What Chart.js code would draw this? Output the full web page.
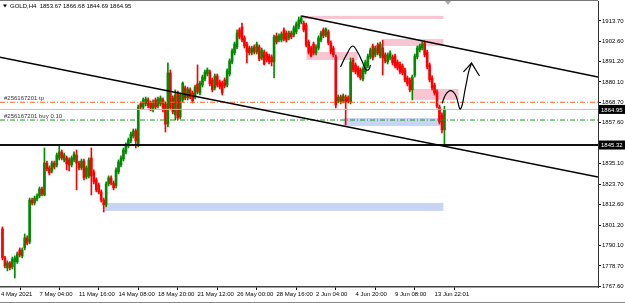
<!DOCTYPE html>
<html>
<head>
<meta charset="utf-8">
<script src="https://cdn.jsdelivr.net/npm/chart.js@4.4.0/dist/chart.umd.min.js"></script>
<style>
  html, body { margin: 0; padding: 0; background: #fff; }
  #chart { display: block; }
</style>
</head>
<body>
<canvas id="chart" width="625" height="303"></canvas>
<script>
// GOLD H4 candles (one entry per bar)
const opens = [
  1799.1, 1783.1, 1777.6, 1780.3, 1778.1, 1780.9, 1780.9, 1787.5, 1784.2, 1788.6,
  1794.1, 1791.9, 1815.0, 1813.4, 1815.6, 1817.3, 1821.1, 1817.8, 1835.4, 1832.7,
  1831.0, 1835.4, 1834.3, 1838.2, 1841.5, 1837.1, 1838.2, 1837.1, 1834.3, 1837.1,
  1839.8, 1835.4, 1832.7, 1836.5, 1827.7, 1828.3, 1838.2, 1830.5, 1826.1, 1823.3,
  1819.5, 1815.0, 1812.3, 1823.9, 1827.2, 1824.4, 1822.8, 1830.5, 1834.3, 1837.6,
  1841.5, 1844.8, 1847.6, 1850.3, 1853.1, 1845.4, 1868.0, 1866.3, 1868.0, 1870.2,
  1868.5, 1864.7, 1870.2, 1866.9, 1868.0, 1870.2, 1868.0, 1856.9, 1885.1, 1871.3,
  1861.9, 1874.0, 1860.8, 1870.2, 1876.8, 1871.3, 1875.7, 1874.0, 1871.8, 1879.0,
  1874.0, 1878.4, 1881.7, 1884.5, 1885.6, 1881.2, 1876.8, 1883.4, 1880.1, 1879.5,
  1881.2, 1878.4, 1884.5, 1891.1, 1896.1, 1899.4, 1908.8, 1910.4, 1904.4, 1901.0,
  1898.8, 1896.1, 1899.4, 1896.6, 1899.4, 1893.3, 1896.6, 1895.5, 1894.4, 1893.9,
  1891.1, 1905.5, 1903.2, 1903.2, 1908.8, 1907.1, 1904.4, 1907.1, 1906.0, 1907.7,
  1910.4, 1913.2, 1912.6, 1911.5, 1902.1, 1898.8, 1901.0, 1896.1, 1898.8, 1903.2,
  1908.8, 1906.0, 1907.7, 1901.6, 1898.8, 1893.9, 1869.6, 1871.8, 1869.6, 1871.8,
  1871.3, 1869.1, 1892.2, 1889.5, 1887.8, 1886.7, 1881.7, 1885.6, 1888.9, 1893.9,
  1899.9, 1895.0, 1900.5, 1894.4, 1898.8, 1895.0, 1891.1, 1893.3, 1893.9, 1894.4,
  1891.1, 1890.0, 1888.9, 1886.7, 1882.3, 1881.2, 1875.7, 1883.9, 1893.9, 1897.7,
  1898.8, 1901.6, 1896.6, 1889.5, 1882.3, 1878.4, 1874.6, 1866.3, 1861.9, 1853.67
];
const highs = [
  1800.2, 1784.0, 1781.5, 1781.0, 1783.6, 1784.2, 1786.4, 1788.6, 1788.6, 1796.3,
  1795.2, 1816.1, 1816.1, 1817.2, 1818.4, 1822.2, 1822.2, 1843.7, 1836.5, 1833.8,
  1836.5, 1836.5, 1840.9, 1845.4, 1842.6, 1840.9, 1839.3, 1838.2, 1839.3, 1841.5,
  1842.6, 1836.5, 1837.6, 1837.6, 1833.8, 1838.2, 1843.7, 1831.6, 1827.2, 1824.4,
  1820.6, 1816.1, 1825.0, 1828.3, 1828.3, 1825.5, 1832.7, 1837.1, 1839.3, 1843.7,
  1846.5, 1849.2, 1852.5, 1854.2, 1854.2, 1867.4, 1869.1, 1871.3, 1871.8, 1871.3,
  1869.6, 1870.2, 1871.3, 1871.8, 1872.4, 1871.3, 1869.1, 1890.6, 1886.7, 1872.4,
  1875.7, 1875.1, 1874.0, 1880.1, 1877.9, 1877.3, 1876.8, 1875.1, 1878.4, 1889.5,
  1880.6, 1883.9, 1886.7, 1887.8, 1886.7, 1882.3, 1884.5, 1884.5, 1881.2, 1880.6,
  1882.3, 1887.3, 1892.8, 1898.3, 1902.1, 1908.8, 1909.9, 1912.6, 1905.5, 1902.1,
  1899.9, 1899.9, 1900.5, 1902.1, 1900.5, 1898.8, 1897.7, 1896.6, 1895.5, 1895.0,
  1906.0, 1907.1, 1906.6, 1907.7, 1909.9, 1908.2, 1908.2, 1908.2, 1911.0, 1913.2,
  1915.9, 1916.5, 1913.7, 1912.6, 1903.2, 1899.9, 1902.1, 1900.5, 1905.5, 1908.2,
  1909.9, 1909.9, 1908.8, 1902.7, 1899.9, 1895.0, 1872.9, 1872.9, 1873.5, 1872.9,
  1872.4, 1893.3, 1893.3, 1890.6, 1888.9, 1887.8, 1888.4, 1892.2, 1895.5, 1898.8,
  1901.0, 1899.9, 1901.6, 1902.1, 1903.2, 1896.1, 1896.1, 1897.2, 1895.0, 1895.5,
  1892.2, 1891.1, 1890.0, 1887.8, 1883.4, 1882.3, 1883.9, 1895.5, 1899.9, 1901.0,
  1902.1, 1902.7, 1897.7, 1890.6, 1883.4, 1879.5, 1875.7, 1867.4, 1863.0, 1866.68
];
const lows = [
  1782.0, 1777.6, 1775.9, 1776.5, 1777.0, 1772.0, 1780.0, 1783.6, 1783.1, 1787.5,
  1790.2, 1790.8, 1812.3, 1812.3, 1814.5, 1816.2, 1817.2, 1817.3, 1831.0, 1828.8,
  1830.0, 1832.1, 1833.2, 1837.1, 1837.1, 1836.0, 1831.6, 1831.0, 1833.2, 1836.0,
  1820.6, 1831.6, 1831.6, 1826.1, 1826.6, 1827.2, 1817.8, 1823.9, 1819.5, 1818.4,
  1813.9, 1808.4, 1811.2, 1822.8, 1823.3, 1820.6, 1821.7, 1829.4, 1833.2, 1836.5,
  1840.4, 1843.7, 1846.5, 1849.2, 1843.7, 1844.3, 1865.2, 1865.2, 1866.9, 1865.8,
  1864.2, 1863.6, 1865.2, 1865.8, 1866.9, 1863.6, 1852.5, 1855.3, 1864.7, 1862.5,
  1859.1, 1859.1, 1859.7, 1869.1, 1870.2, 1870.2, 1870.7, 1868.5, 1870.7, 1873.5,
  1873.0, 1877.3, 1880.6, 1883.4, 1877.9, 1874.6, 1875.7, 1877.3, 1876.2, 1872.9,
  1876.8, 1877.3, 1883.4, 1890.0, 1895.0, 1898.3, 1903.8, 1902.1, 1898.8, 1890.6,
  1895.0, 1895.0, 1895.5, 1895.5, 1891.7, 1892.2, 1889.5, 1891.1, 1890.0, 1888.9,
  1882.3, 1901.0, 1902.1, 1902.1, 1902.7, 1902.1, 1903.2, 1903.8, 1904.9, 1906.6,
  1909.3, 1912.1, 1907.7, 1899.4, 1895.5, 1893.9, 1895.0, 1895.0, 1897.7, 1902.1,
  1904.4, 1904.9, 1900.5, 1895.5, 1893.9, 1865.8, 1868.5, 1868.0, 1868.5, 1856.4,
  1868.5, 1868.0, 1885.6, 1884.5, 1882.8, 1881.2, 1880.6, 1884.5, 1887.8, 1892.8,
  1892.2, 1893.9, 1895.0, 1893.3, 1883.9, 1890.6, 1890.0, 1892.2, 1889.5, 1887.8,
  1886.7, 1884.5, 1884.0, 1880.1, 1877.9, 1874.6, 1870.2, 1882.8, 1892.8, 1896.6,
  1897.7, 1893.9, 1887.3, 1880.1, 1875.7, 1872.9, 1865.8, 1856.9, 1852.0, 1844.69
];
const closes = [
  1783.1, 1778.7, 1780.3, 1777.6, 1782.5, 1783.1, 1785.3, 1784.7, 1787.5, 1794.1,
  1791.3, 1815.0, 1813.4, 1816.1, 1817.3, 1821.1, 1818.3, 1835.4, 1832.1, 1829.9,
  1835.4, 1833.2, 1839.8, 1841.5, 1838.2, 1839.8, 1834.9, 1834.3, 1838.2, 1840.4,
  1835.4, 1832.7, 1836.5, 1827.2, 1832.7, 1837.1, 1828.3, 1825.0, 1820.6, 1819.5,
  1815.0, 1812.3, 1823.9, 1827.2, 1824.4, 1821.7, 1831.6, 1836.0, 1838.2, 1842.6,
  1845.4, 1848.1, 1851.4, 1853.1, 1847.6, 1866.3, 1866.3, 1870.2, 1870.7, 1866.9,
  1865.8, 1869.1, 1866.3, 1870.7, 1871.3, 1865.8, 1856.9, 1885.1, 1865.8, 1863.6,
  1872.9, 1860.2, 1872.9, 1879.5, 1871.3, 1876.2, 1871.8, 1869.6, 1877.3, 1874.6,
  1879.5, 1882.8, 1885.6, 1886.7, 1879.0, 1875.7, 1883.4, 1878.4, 1877.3, 1874.0,
  1877.9, 1886.2, 1891.7, 1897.2, 1901.0, 1907.1, 1904.9, 1903.2, 1899.9, 1896.6,
  1896.1, 1898.8, 1896.6, 1901.0, 1892.8, 1897.7, 1890.0, 1892.2, 1891.1, 1891.1,
  1904.9, 1902.1, 1905.5, 1906.6, 1903.8, 1903.2, 1907.1, 1904.9, 1909.9, 1912.1,
  1914.3, 1915.4, 1908.8, 1900.5, 1896.6, 1894.4, 1896.1, 1899.4, 1904.4, 1907.1,
  1905.5, 1909.3, 1901.6, 1896.6, 1895.0, 1867.4, 1871.8, 1869.1, 1872.4, 1869.1,
  1869.6, 1891.1, 1886.7, 1885.6, 1883.9, 1882.3, 1887.3, 1891.1, 1894.4, 1897.7,
  1893.3, 1898.8, 1896.1, 1901.0, 1893.3, 1891.7, 1895.0, 1896.1, 1890.6, 1888.9,
  1887.8, 1885.6, 1885.1, 1881.2, 1879.0, 1875.7, 1882.8, 1894.4, 1898.8, 1899.9,
  1901.0, 1895.0, 1888.4, 1881.2, 1876.8, 1874.0, 1866.9, 1858.0, 1853.67, 1864.95
];

// axis ticks
const xTickBars = [-0.6, 15, 31, 47, 63, 79, 95, 111, 127, 143, 159, 175];
const xTickLabels = ["4 May 2021", "7 May 04:00", "11 May 16:00", "14 May 08:00", "18 May 20:00",
  "21 May 12:00", "26 May 00:00", "28 May 16:00", "2 Jun 04:00", "4 Jun 20:00", "9 Jun 08:00", "13 Jun 22:01"];
const yTickValues = [1913.70, 1902.60, 1891.20, 1880.10, 1868.70, 1857.60, 1835.10,
  1823.70, 1812.60, 1801.20, 1790.10, 1778.70, 1767.60];

// levels and drawings
const bidPrice = 1864.95;
const supportPrice = 1845.32;
const tpPrice = 1868.9;
const buyPrice = 1859.1;
const lowerChannel = [{ x: -1, y: 1893.7 }, { x: 241.2, y: 1827.7 }];
const upperChannel = [{ x: 121.1, y: 1916.45 }, { x: 241.2, y: 1882.8 }];
// [fromBar, toBar, top, bottom]
const pinkZones = [
  [121.5, 178.6, 1916.5, 1914.8],
  [154.3, 178.6, 1903.8, 1899.9],
  [123.1, 143.8, 1896.6, 1892.2],
  [166.1, 184.7, 1876.2, 1870.2]
];
const blueZones = [
  [138.1, 177.4, 1860.2, 1855.8],
  [41.3, 178.6, 1813.4, 1809.0]
];
const scribbleOne = [
  { x: 136.9, y: 1888.3 }, { x: 139.3, y: 1895.0 }, { x: 141.8, y: 1899.9 }, { x: 143.8, y: 1896.6 },
  { x: 145.8, y: 1891.1 }, { x: 147.0, y: 1887.2 }, { x: 148.2, y: 1886.7 }, { x: 149.1, y: 1889.4 }
];
const scribbleTwo = [
  { x: 178.1, y: 1868.3 }, { x: 179.4, y: 1872.9 }, { x: 181.5, y: 1875.3 }, { x: 183.5, y: 1872.9 },
  { x: 185.5, y: 1865.2 }, { x: 187.5, y: 1876.8 }, { x: 188.8, y: 1885.6 }, { x: 190.0, y: 1890.5 }
];
const arrowHead = [{ x: 186.7, y: 1885.6 }, { x: 190.0, y: 1890.5 }, { x: 193.2, y: 1883.4 }];

const X_MIN = -1;
const X_MAX = 241.2;
const UP = "#008a00";
const DOWN = "#ff0000";
const FONT = '"Liberation Sans", Arial, sans-serif';

const candleColors = opens.map((o, i) => (closes[i] >= o ? UP : DOWN));

function hLine(price, color, width, dash) {
  return {
    type: "line",
    data: [{ x: X_MIN, y: price }, { x: X_MAX, y: price }],
    borderColor: color,
    borderWidth: width,
    borderDash: dash || [],
    pointRadius: 0,
    fill: false,
    order: -1
  };
}

function trendLine(points, width, tension) {
  return {
    type: "line",
    data: points,
    borderColor: "#000",
    borderWidth: width,
    tension: tension || 0,
    pointRadius: 0,
    fill: false,
    order: -2
  };
}

const decor = {
  id: "decor",
  beforeDatasetsDraw(chart) {
    const { ctx, scales: { x, y } } = chart;
    ctx.save();
    const drawZone = (z, color) => {
      const x1 = x.getPixelForValue(z[0]);
      const x2 = x.getPixelForValue(z[1]);
      const y1 = y.getPixelForValue(z[2]);
      const y2 = y.getPixelForValue(z[3]);
      ctx.fillStyle = color;
      ctx.fillRect(x1, y1, x2 - x1, y2 - y1);
    };
    pinkZones.forEach((z) => drawZone(z, "#f8c6d2"));
    blueZones.forEach((z) => drawZone(z, "#c8d4f4"));
    ctx.restore();
  },
  afterDraw(chart) {
    const { ctx, chartArea, scales: { y } } = chart;
    ctx.save();
    // frame top
    ctx.strokeStyle = "#777";
    ctx.lineWidth = 1;
    ctx.beginPath();
    ctx.moveTo(0, 0.5);
    ctx.lineTo(chartArea.right, 0.5);
    ctx.stroke();

    ctx.font = "6px " + FONT;
    ctx.textBaseline = "middle";
    ctx.fillStyle = "#000";
    // title
    ctx.beginPath();
    ctx.moveTo(3, 4.5);
    ctx.lineTo(7, 4.5);
    ctx.lineTo(5, 7.5);
    ctx.closePath();
    ctx.fill();
    ctx.fillText("GOLD,H4  1853.67 1866.68 1844.69 1864.95", 10, 6.5);

    // order labels
    ctx.fillStyle = "#333";
    ctx.fillText("#256167201 tp", 4, y.getPixelForValue(tpPrice) - 3.5);
    ctx.fillText("#256167201 buy 0.10", 4, y.getPixelForValue(buyPrice) - 3.5);

    // chart shift marker
    ctx.fillStyle = "#aaa";
    ctx.beginPath();
    ctx.moveTo(445, 1);
    ctx.lineTo(451, 1);
    ctx.lineTo(448, 5);
    ctx.closePath();
    ctx.fill();

    // price boxes on the axis
    [bidPrice, supportPrice].forEach((p) => {
      const py = y.getPixelForValue(p);
      ctx.fillStyle = "#000";
      ctx.fillRect(chartArea.right + 1, py - 4.5, 26, 9);
      ctx.fillStyle = "#fff";
      ctx.fillText(p.toFixed(2), chartArea.right + 3, py + 0.5);
    });

    // window bottom edge
    ctx.strokeStyle = "#888";
    ctx.beginPath();
    ctx.moveTo(0, 302.5);
    ctx.lineTo(625, 302.5);
    ctx.stroke();
    ctx.restore();
  }
};

new Chart(document.getElementById("chart"), {
  type: "bar",
  data: {
    datasets: [
      hLine(supportPrice, "#111", 2),
      hLine(bidPrice, "#c0c0c0", 1),
      hLine(tpPrice, "#f26522", 1, [5, 2, 1, 2]),
      hLine(buyPrice, "#1a9a1a", 1, [5, 2, 1, 2]),
      trendLine(lowerChannel, 1.6),
      trendLine(upperChannel, 1.6),
      trendLine(scribbleOne, 1.2, 0.4),
      trendLine(scribbleTwo, 1.2, 0.4),
      trendLine(arrowHead, 1.2),
      {
        label: "body",
        data: opens.map((o, i) => ({ x: i, y: [o, closes[i]] })),
        backgroundColor: candleColors,
        barThickness: 2,
        minBarLength: 1,
        grouped: false,
        order: 0
      },
      {
        label: "wick",
        data: lows.map((l, i) => ({ x: i, y: [l, highs[i]] })),
        backgroundColor: candleColors,
        barThickness: 1,
        grouped: false,
        order: 1
      }
    ]
  },
  options: {
    responsive: false,
    animation: false,
    devicePixelRatio: 1,
    layout: { padding: { top: 1, left: 0, right: 0, bottom: 0 } },
    plugins: { legend: { display: false }, tooltip: { enabled: false } },
    scales: {
      x: {
        type: "linear",
        min: X_MIN,
        max: X_MAX,
        offset: false,
        afterBuildTicks: (s) => { s.ticks = xTickBars.map((v) => ({ value: v })); },
        afterFit: (s) => { s.height = 16; s.paddingLeft = 0; s.paddingRight = 0; },
        ticks: {
          autoSkip: false,
          maxRotation: 0,
          align: "start",
          padding: 1,
          color: "#000",
          font: { family: FONT, size: 6 },
          callback: (v) => xTickLabels[xTickBars.indexOf(v)]
        },
        grid: { drawOnChartArea: false, tickLength: 3, color: "#000" },
        border: { color: "#444", width: 1.5 }
      },
      y: {
        position: "right",
        min: 1767.05,
        max: 1924.72,
        afterBuildTicks: (s) => { s.ticks = yTickValues.map((v) => ({ value: v })); },
        afterFit: (s) => { s.width = 27; s.paddingTop = 0; s.paddingBottom = 0; },
        ticks: {
          padding: 1,
          color: "#000",
          font: { family: FONT, size: 6 },
          callback: (v) => v.toFixed(2)
        },
        grid: { drawOnChartArea: false, tickLength: 3, color: "#000" },
        border: { color: "#333", width: 1 }
      }
    }
  },
  plugins: [decor]
});
</script>
</body>
</html>
